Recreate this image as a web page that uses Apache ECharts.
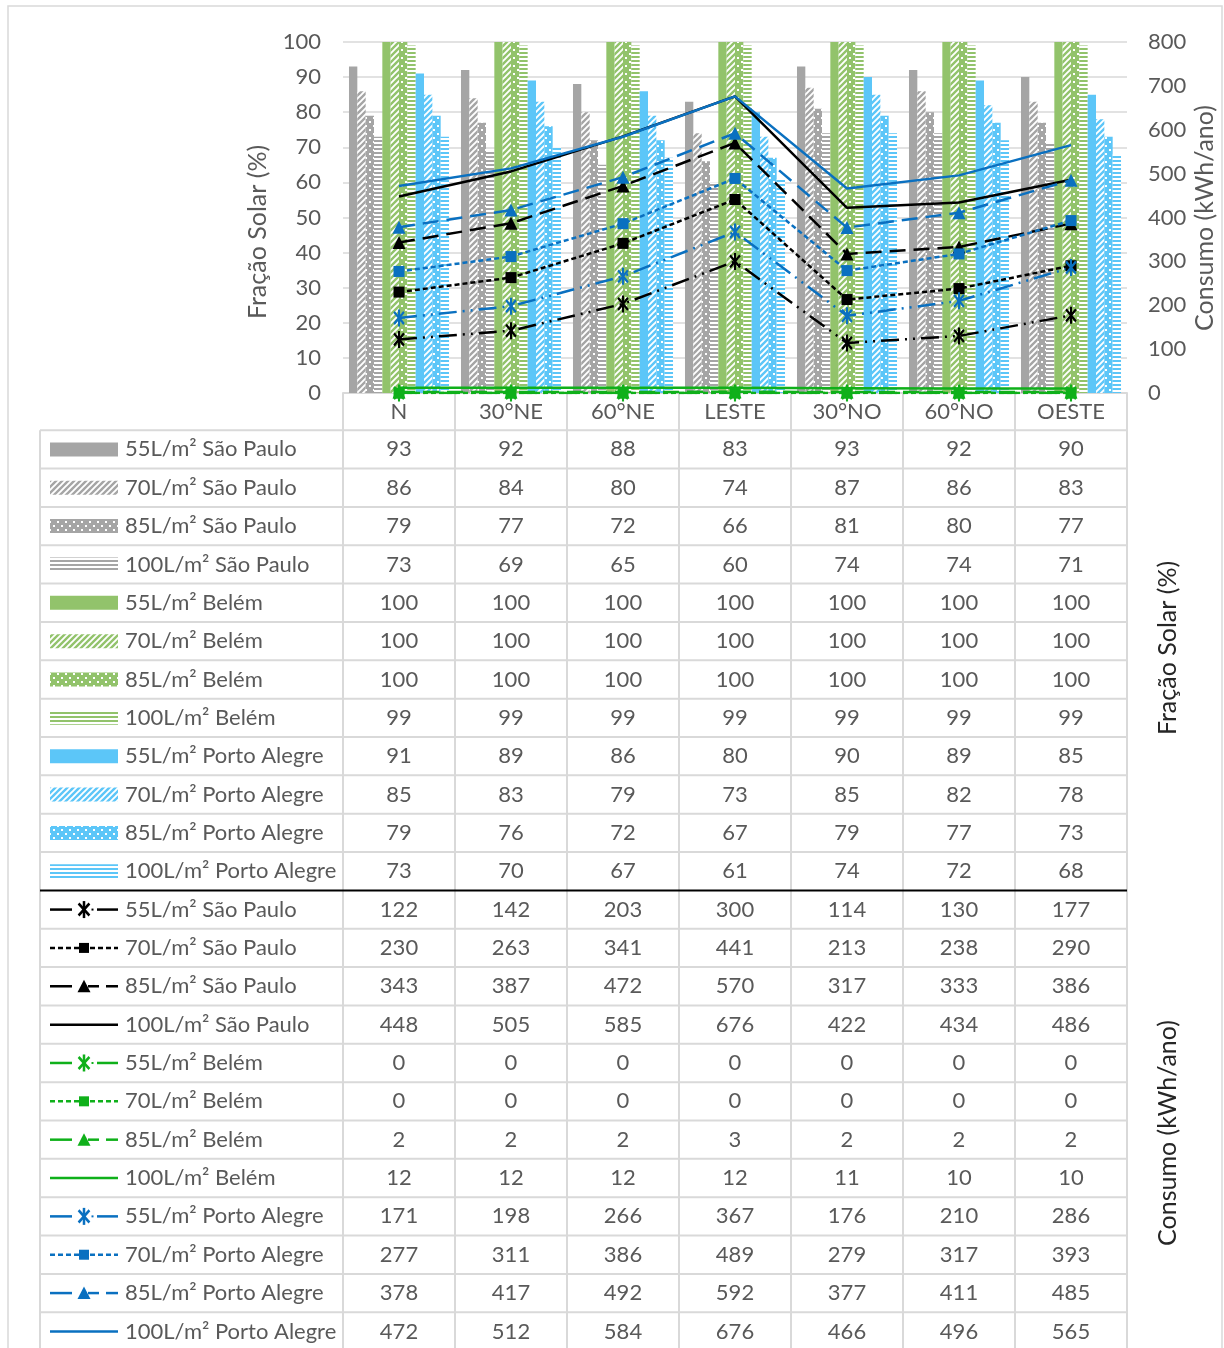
<!DOCTYPE html>
<html>
<head>
<meta charset="utf-8">
<script src="https://cdn.jsdelivr.net/npm/echarts@6/dist/echarts.min.js"></script>
<style>
  html, body { margin: 0; padding: 0; background: #ffffff; }
  #chart { width: 1224px; height: 1348px; }
</style>
</head>
<body>
<div id="chart"></div>
<script>
// Orientation categories (x axis / table columns)
const categories = ['N', '30°NE', '60°NE', 'LESTE', '30°NO', '60°NO', 'OESTE'];
const volumes = ['55', '70', '85', '100'];
const cities = ['São Paulo', 'Belém', 'Porto Alegre'];
const leftAxisTitle = 'Fração Solar (%)';
const rightAxisTitle = 'Consumo (kWh/ano)';

// Fração Solar (%) — bars, left axis
const fsSaoPaulo55 = [93, 92, 88, 83, 93, 92, 90];
const fsSaoPaulo70 = [86, 84, 80, 74, 87, 86, 83];
const fsSaoPaulo85 = [79, 77, 72, 66, 81, 80, 77];
const fsSaoPaulo100 = [73, 69, 65, 60, 74, 74, 71];
const fsBelem55 = [100, 100, 100, 100, 100, 100, 100];
const fsBelem70 = [100, 100, 100, 100, 100, 100, 100];
const fsBelem85 = [100, 100, 100, 100, 100, 100, 100];
const fsBelem100 = [99, 99, 99, 99, 99, 99, 99];
const fsPortoAlegre55 = [91, 89, 86, 80, 90, 89, 85];
const fsPortoAlegre70 = [85, 83, 79, 73, 85, 82, 78];
const fsPortoAlegre85 = [79, 76, 72, 67, 79, 77, 73];
const fsPortoAlegre100 = [73, 70, 67, 61, 74, 72, 68];

// Consumo (kWh/ano) — lines, right axis
const cSaoPaulo55 = [122, 142, 203, 300, 114, 130, 177];
const cSaoPaulo70 = [230, 263, 341, 441, 213, 238, 290];
const cSaoPaulo85 = [343, 387, 472, 570, 317, 333, 386];
const cSaoPaulo100 = [448, 505, 585, 676, 422, 434, 486];
const cBelem55 = [0, 0, 0, 0, 0, 0, 0];
const cBelem70 = [0, 0, 0, 0, 0, 0, 0];
const cBelem85 = [2, 2, 2, 3, 2, 2, 2];
const cBelem100 = [12, 12, 12, 12, 11, 10, 10];
const cPortoAlegre55 = [171, 198, 266, 367, 176, 210, 286];
const cPortoAlegre70 = [277, 311, 386, 489, 279, 317, 393];
const cPortoAlegre85 = [378, 417, 492, 592, 377, 411, 485];
const cPortoAlegre100 = [472, 512, 584, 676, 466, 496, 565];

const barData = [
  fsSaoPaulo55, fsSaoPaulo70, fsSaoPaulo85, fsSaoPaulo100,
  fsBelem55, fsBelem70, fsBelem85, fsBelem100,
  fsPortoAlegre55, fsPortoAlegre70, fsPortoAlegre85, fsPortoAlegre100
];
const lineData = [
  cSaoPaulo55, cSaoPaulo70, cSaoPaulo85, cSaoPaulo100,
  cBelem55, cBelem70, cBelem85, cBelem100,
  cPortoAlegre55, cPortoAlegre70, cPortoAlegre85, cPortoAlegre100
];

// ---- styling ----
const FONT = 'Lato';
const FS = 22;
const TITLE_FS = 25;
const TEXT = '#595959';
const GRID = '#d9d9d9';
const barColors = ['#a5a5a5', '#92c36b', '#5cc6f8'];
const lineColors = ['#000000', '#0fb01a', '#0a70c0'];
const LINE_W = 2.5;

// Fill patterns for the bar series: solid, diagonal, dotted, horizontal
function tile(w, h, draw) {
  const c = document.createElement('canvas');
  c.width = w; c.height = h;
  draw(c.getContext('2d'));
  return c;
}
function makeFill(kind, color) {
  if (kind === 0) return color;
  let img;
  if (kind === 1) {
    img = tile(6, 6, g => {
      g.fillStyle = color; g.fillRect(0, 0, 6, 6);
      g.strokeStyle = '#ffffff'; g.lineWidth = 1.9;
      g.beginPath();
      g.moveTo(-1, 7); g.lineTo(7, -1);
      g.moveTo(-1, 1); g.lineTo(1, -1);
      g.moveTo(5, 7); g.lineTo(7, 5);
      g.stroke();
    });
  } else if (kind === 2) {
    img = tile(8, 8, g => {
      g.fillStyle = color; g.fillRect(0, 0, 8, 8);
      g.fillStyle = '#ffffff';
      g.fillRect(1, 1, 2, 2); g.fillRect(5, 5, 2, 2);
    });
  } else {
    img = tile(4, 4, g => {
      g.fillStyle = '#ffffff'; g.fillRect(0, 0, 4, 4);
      g.fillStyle = color; g.fillRect(0, 0, 4, 2);
    });
  }
  return { image: img, repeat: 'repeat' };
}

// Asterisk marker built from three thin bars (vertical and two diagonals)
function armPoints(cx, cy, angDeg, len, wid) {
  const a = angDeg * Math.PI / 180;
  const dx = Math.cos(a) * len / 2, dy = Math.sin(a) * len / 2;
  const nx = -Math.sin(a) * wid / 2, ny = Math.cos(a) * wid / 2;
  return [
    [cx + dx + nx, cy + dy + ny], [cx + dx - nx, cy + dy - ny],
    [cx - dx - nx, cy - dy - ny], [cx - dx + nx, cy - dy + ny]
  ];
}
const armAngles = [90, 45, 135];
function ptsToPath(p) {
  return 'M' + p.map(q => q[0].toFixed(2) + ' ' + q[1].toFixed(2)).join(' L') + ' Z ';
}
const asteriskPath = armAngles.map(a => ptsToPath(armPoints(10, 10, a, 20, 3.0))).join('');

// Marker / dash scheme per volume
const markerSyms = ['path://' + asteriskPath, 'rect', 'triangle', 'none'];
const markerSizes = [[14, 17], 11, 13, 0];
const dashes = [[18, 6, 2, 6, 2, 6], [5, 3], [16, 8], 'solid'];

const series = [];
const labels = [];
cities.forEach(city => {
  volumes.forEach(v => labels.push(v + 'L/m² ' + city));
});

barData.forEach((d, i) => {
  const ci = Math.floor(i / 4), vi = i % 4;
  series.push({
    name: labels[i],
    type: 'bar',
    yAxisIndex: 0,
    data: d,
    barGap: '0%',
    barCategoryGap: '10.7%',
    itemStyle: { color: makeFill(vi, barColors[ci]) },
    emphasis: { disabled: true },
    z: 2
  });
});
lineData.forEach((d, i) => {
  const ci = Math.floor(i / 4), vi = i % 4;
  series.push({
    name: labels[i],
    type: 'line',
    yAxisIndex: 1,
    data: d,
    symbol: markerSyms[vi],
    symbolSize: markerSizes[vi],
    symbolKeepAspect: true,
    showSymbol: vi !== 3,
    lineStyle: { color: lineColors[ci], width: LINE_W, type: dashes[vi] },
    itemStyle: { color: lineColors[ci], borderWidth: 0 },
    emphasis: { disabled: true },
    z: 5
  });
});

// ---- data table below the plot ----
const plotL = 343, plotR = 1127, tableL = 40;
const headTop = 393, rowTop = 430.2, rowH = 38.35;
const colW = (plotR - plotL) / categories.length;
const graphics = [];

// outer chart frame
graphics.push({ type: 'rect', shape: { x: 8, y: 6, width: 1214, height: 1400 },
  style: { fill: 'none', stroke: GRID, lineWidth: 1.5 }, z: 0, silent: true });

const nRows = labels.length * 2;
const tableBottom = rowTop + nRows * rowH;
// vertical cell borders
for (let k = 0; k <= categories.length; k++) {
  const x = plotL + k * colW;
  graphics.push({ type: 'line', shape: { x1: x, y1: headTop, x2: x, y2: tableBottom },
    style: { stroke: GRID, lineWidth: 2 }, z: 1, silent: true });
}
graphics.push({ type: 'line', shape: { x1: tableL, y1: rowTop, x2: tableL, y2: tableBottom },
  style: { stroke: GRID, lineWidth: 2 }, z: 1, silent: true });
// horizontal cell borders; the black rule separates bar rows from line rows
for (let r = 0; r <= nRows; r++) {
  const y = rowTop + r * rowH;
  const isSplit = r === labels.length;
  graphics.push({ type: 'line', shape: { x1: tableL, y1: y, x2: plotR, y2: y },
    style: { stroke: isSplit ? '#000000' : GRID, lineWidth: 2 }, z: isSplit ? 3 : 1, silent: true });
}

function addRow(r, label, values, icon) {
  const cy = rowTop + r * rowH + rowH / 2;
  graphics.push({ type: 'text', x: 125, y: cy, style: { text: label, font: FS + 'px ' + FONT,
    fill: TEXT, align: 'left', verticalAlign: 'middle' }, z: 4, silent: true });
  values.forEach((val, k) => {
    graphics.push({ type: 'text', x: plotL + (k + 0.5) * colW, y: cy, style: { text: String(val),
      font: FS + 'px ' + FONT, fill: TEXT, align: 'center', verticalAlign: 'middle' }, z: 4, silent: true });
  });
  icon(cy);
}

function seg(x1, x2, cy, col, dash) {
  graphics.push({ type: 'line', shape: { x1: x1, y1: cy, x2: x2, y2: cy },
    style: { stroke: col, lineWidth: LINE_W, lineDash: dash || null }, z: 4, silent: true });
}

barData.forEach((d, i) => {
  const ci = Math.floor(i / 4), vi = i % 4;
  addRow(i, labels[i], d, cy => {
    graphics.push({ type: 'rect', shape: { x: 50, y: cy - 7, width: 68, height: 14 },
      style: { fill: makeFill(vi, barColors[ci]) }, z: 4, silent: true });
  });
});
lineData.forEach((d, i) => {
  const ci = Math.floor(i / 4), vi = i % 4;
  const col = lineColors[ci];
  addRow(labels.length + i, labels[i], d, cy => {
    if (vi === 0) {
      seg(50, 72, cy, col); seg(97, 118, cy, col);
      graphics.push({ type: 'rect', shape: { x: 91.5, y: cy - 1, width: 2, height: 2 },
        style: { fill: col }, z: 5, silent: true });
      armAngles.forEach(a => {
        const pts = armPoints(84, cy, a, 17, 2.8).map(p => [84 + (p[0] - 84) * 0.9, p[1]]);
        graphics.push({ type: 'polygon', shape: { points: pts }, style: { fill: col }, z: 6, silent: true });
      });
    } else if (vi === 1) {
      seg(50, 118, cy, col, dashes[1]);
      graphics.push({ type: 'rect', shape: { x: 79, y: cy - 5, width: 10, height: 10 },
        style: { fill: col }, z: 5, silent: true });
    } else if (vi === 2) {
      seg(50, 72, cy, col); seg(88, 99, cy, col); seg(106, 118, cy, col);
      graphics.push({ type: 'polygon', shape: { points: [[84, cy - 6.5], [90.5, cy + 6], [77.5, cy + 6]] },
        style: { fill: col }, z: 5, silent: true });
    } else {
      seg(50, 118, cy, col);
    }
  });
});

// axis captions: the two plot axis titles and the two captions beside the table
graphics.push({ type: 'text', x: 258, y: 232, rotation: Math.PI / 2,
  style: { text: leftAxisTitle, font: TITLE_FS + 'px ' + FONT, fill: TEXT, align: 'center', verticalAlign: 'middle' }, z: 4, silent: true });
graphics.push({ type: 'text', x: 1205, y: 218, rotation: Math.PI / 2,
  style: { text: rightAxisTitle, font: TITLE_FS + 'px ' + FONT, fill: TEXT, align: 'center', verticalAlign: 'middle' }, z: 4, silent: true });
graphics.push({ type: 'text', x: 1168, y: 648, rotation: Math.PI / 2,
  style: { text: leftAxisTitle, font: TITLE_FS + 'px ' + FONT, fill: '#262626', align: 'center', verticalAlign: 'middle' }, z: 4, silent: true });
graphics.push({ type: 'text', x: 1168, y: 1133, rotation: Math.PI / 2,
  style: { text: rightAxisTitle, font: TITLE_FS + 'px ' + FONT, fill: '#262626', align: 'center', verticalAlign: 'middle' }, z: 4, silent: true });

const chart = echarts.init(document.getElementById('chart'), null, { renderer: 'canvas' });
chart.setOption({
  animation: false,
  backgroundColor: '#ffffff',
  grid: { left: plotL, right: 1224 - plotR, top: 42, bottom: 1348 - headTop,
    containLabel: false, outerBoundsMode: 'none' },
  xAxis: {
    type: 'category',
    data: categories,
    axisLine: { show: true, lineStyle: { color: GRID, width: 2 } },
    axisTick: { show: false },
    axisLabel: { color: TEXT, fontFamily: FONT, fontSize: FS, margin: 8, interval: 0 }
  },
  yAxis: [{
    type: 'value', min: 0, max: 100, interval: 10,
    axisLine: { show: false }, axisTick: { show: false },
    axisLabel: { color: TEXT, fontFamily: FONT, fontSize: FS, margin: 22 },
    splitLine: { lineStyle: { color: GRID, width: 1.5 } }
  }, {
    type: 'value', min: 0, max: 800, interval: 100, position: 'right',
    axisLine: { show: false }, axisTick: { show: false },
    axisLabel: { color: TEXT, fontFamily: FONT, fontSize: FS, margin: 21 },
    splitLine: { show: false }
  }],
  series: series,
  graphic: { elements: graphics }
});
</script>
</body>
</html>
